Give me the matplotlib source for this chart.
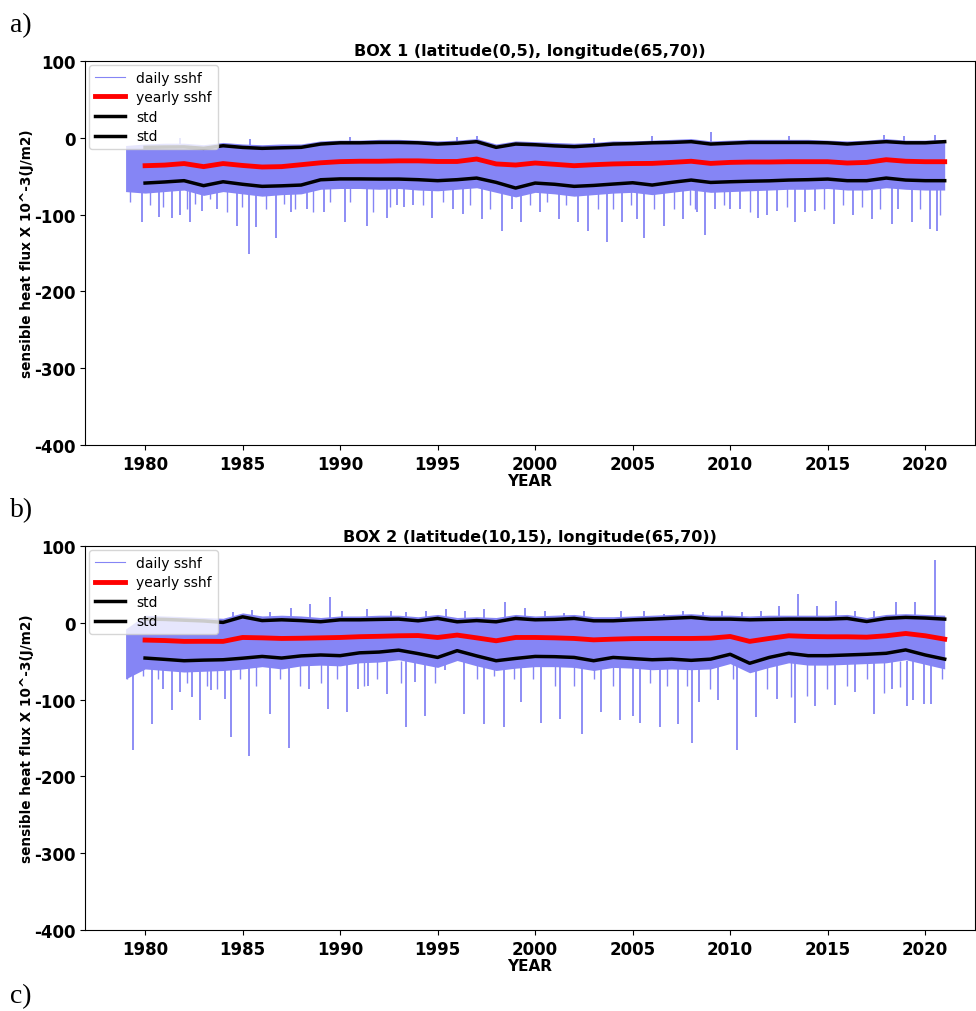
import matplotlib
matplotlib.use("Agg")
import matplotlib.pyplot as plt
import numpy as np


# yearly values (1980..2021)
years = list(range(1980, 2022))

mean_a = [-36.3, -35.5, -33.5, -37.5, -33.5, -36.0, -38.0, -37.5, -35.0, -32.5,
          -31.0, -30.5, -30.5, -30.0, -30.0, -30.8, -30.8, -27.6, -34.0, -35.4,
          -32.8, -34.5, -36.3, -35.0, -34.0, -33.5, -33.3, -32.0, -30.5, -33.3,
          -32.0, -31.5, -31.5, -31.1, -31.1, -31.1, -32.8, -32.0, -28.5, -30.5,
          -31.1, -31.1]
upper_a = [-12.4, -12.0, -11.8, -13.7, -10.3, -12.5, -13.7, -13.0, -12.4, -8.1,
           -6.5, -6.5, -6.0, -6.0, -6.5, -8.1, -7.0, -5.0, -12.4, -8.1,
           -9.0, -10.5, -11.5, -10.0, -8.1, -7.5, -6.5, -6.0, -5.0, -8.1,
           -7.0, -6.0, -6.0, -6.0, -6.0, -6.5, -8.1, -6.5, -5.0, -6.5,
           -6.5, -5.0]
lower_a = [-58.9, -57.5, -55.8, -62.3, -57.2, -60.5, -63.2, -62.5, -61.5, -54.6,
           -53.5, -53.5, -53.7, -53.7, -54.5, -55.8, -54.5, -52.4, -58.0, -65.4,
           -58.9, -60.5, -63.2, -62.0, -60.2, -58.5, -61.5, -58.0, -55.0, -58.1,
           -57.2, -56.5, -56.0, -55.0, -54.5, -53.7, -55.8, -55.8, -52.4, -55.0,
           -55.8, -55.8]

mean_b = [-22.4, -23.0, -24.1, -24.0, -24.1, -19.0, -19.5, -20.3, -20.0, -19.5,
          -19.0, -18.0, -17.5, -16.8, -16.5, -19.0, -15.9, -19.5, -23.3, -19.0,
          -19.0, -19.5, -20.3, -22.1, -21.2, -20.5, -20.3, -20.3, -20.3, -19.9,
          -17.7, -24.1, -20.3, -16.8, -17.7, -18.1, -18.1, -18.6, -16.8, -13.8,
          -16.8, -21.2]
upper_b = [5.0, 4.5, 3.5, 2.5, 0.6, 7.9, 3.0, 4.0, 3.0, 1.5,
           4.0, 4.0, 4.5, 4.9, 2.7, 5.8, 1.4, 3.0, 1.4, 5.8,
           4.0, 4.5, 5.8, 2.7, 2.7, 4.0, 4.9, 6.0, 7.1, 4.9,
           4.9, 4.0, 4.5, 4.9, 4.9, 4.9, 5.8, 1.8, 5.8, 7.1,
           6.3, 4.9]
lower_b = [-45.8, -47.5, -49.3, -48.5, -48.0, -46.0, -43.7, -45.8, -43.0, -41.8,
           -42.7, -39.0, -38.0, -35.5, -40.0, -45.0, -36.2, -43.0, -49.3, -46.3,
           -43.7, -44.0, -45.0, -49.3, -45.0, -46.5, -48.0, -47.2, -48.8, -47.2,
           -40.9, -52.6, -45.0, -39.6, -42.7, -42.7, -41.8, -40.9, -39.6, -35.2,
           -41.8, -47.2]

# dense part of the daily series, top and bottom per year (1979..2021)
band_years = list(range(1979, 2022))
band_top_a = [-10, -8, -7, -7, -9, -6, -8, -9, -8, -8, -4,
              -3, -3, -2, -2, -3, -4, -3, -1, -8, -4,
              -5, -6, -7, -6, -4, -4, -3, -2, -1, -4,
              -3, -2, -2, -2, -2, -3, -4, -3, -1, -3,
              -3, -2]
band_bot_a = [-70, -72, -70, -68, -75, -70, -73, -76, -74, -73, -67,
              -66, -66, -67, -66, -68, -69, -67, -65, -71, -77,
              -71, -73, -76, -74, -72, -71, -74, -71, -68, -71,
              -70, -69, -68, -67, -67, -66, -68, -68, -65, -67,
              -68, -68]
band_top_b = [-8, 10, 9, 8, 7, 6, 13, 9, 10, 9, 7,
              9, 9, 10, 10, 8, 11, 7, 8, 7, 11,
              9, 10, 11, 8, 8, 9, 10, 11, 12, 10,
              10, 9, 10, 10, 10, 10, 11, 7, 11, 12,
              11, 10]
band_bot_b = [-73, -60, -62, -64, -63, -62, -60, -57, -60, -56, -55,
              -56, -52, -51, -48, -53, -58, -49, -56, -62, -59,
              -57, -57, -58, -62, -58, -59, -61, -60, -61, -60,
              -53, -65, -58, -52, -55, -55, -54, -53, -52, -48,
              -54, -60]

# strongest daily spikes (year, value)
down_a = [(1979.83, -110), (1980.73, -103), (1981.37, -105), (1981.8, -101),
          (1982.3, -110), (1982.9, -95), (1983.7, -93), (1984.7, -115),
          (1985.35, -151), (1985.7, -116), (1986.7, -130), (1987.5, -97),
          (1988.3, -93), (1989.15, -97), (1990.25, -110), (1991.4, -115),
          (1992.4, -104), (1992.9, -88), (1993.3, -90), (1993.75, -88),
          (1994.7, -104), (1995.8, -93), (1996.3, -99), (1997.3, -106),
          (1998.3, -121), (1998.8, -93), (1999.26, -110), (2000.26, -97),
          (2001.2, -106), (2002.2, -110), (2002.7, -121), (2003.7, -136),
          (2004.45, -110), (2005.2, -106), (2005.6, -130), (2006.6, -115),
          (2007.6, -106), (2008.3, -97), (2008.7, -127), (2009.2, -93),
          (2010.0, -93), (2010.5, -93), (2011.45, -104), (2011.9, -101),
          (2012.4, -95), (2013.3, -110), (2013.85, -97), (2014.36, -95),
          (2015.3, -112), (2016.3, -101), (2017.26, -106), (2018.3, -112),
          (2018.6, -93), (2019.3, -110), (2020.26, -119), (2020.6, -121)]
# smaller ones that give the band its ragged lower edge
mid_a = [(1979.23, -84), (1980.26, -88), (1980.94, -90), (1982.14, -93),
         (1982.56, -86), (1983.33, -80), (1984.2, -97), (1984.96, -90),
         (1986.2, -93), (1987.1, -86), (1987.7, -93), (1988.6, -97),
         (1989.5, -84), (1990.5, -84), (1991.7, -97), (1992.56, -90),
         (1994.27, -88), (1995.3, -84), (1996.67, -88), (1997.7, -93),
         (1999.74, -88), (2000.6, -84), (2001.6, -88), (2003.2, -93),
         (2004.0, -93), (2004.9, -88), (2006.07, -93), (2007.1, -93),
         (2007.95, -88), (2008.2, -93), (2009.66, -88), (2011.0, -97),
         (2012.9, -90), (2014.8, -93), (2015.8, -88), (2016.75, -90),
         (2017.7, -93), (2019.74, -93), (2020.77, -101)]
up_a = [(1981.8, 0), (1985.4, -1), (1990.5, 1), (1996.0, 1), (1997.0, 3),
        (2003.0, 0), (2006.0, 2), (2009.0, 7), (2013.0, 2), (2017.9, 4),
        (2018.9, 3), (2020.5, 4)]

down_b = [(1979.4, -166), (1980.34, -132), (1980.94, -86), (1981.37, -114),
          (1981.8, -90), (1982.4, -97), (1982.8, -127), (1983.4, -88),
          (1984.1, -99), (1984.4, -149), (1985.35, -173), (1986.4, -119),
          (1987.4, -163), (1988.4, -86), (1989.4, -112), (1990.34, -116),
          (1990.9, -86), (1991.45, -82), (1992.4, -93), (1993.4, -136),
          (1993.85, -77), (1994.36, -121), (1995.4, -62), (1996.36, -119),
          (1997.4, -132), (1998.4, -136), (1999.3, -103), (2000.3, -130),
          (2001.3, -125), (2002.4, -145), (2003.4, -116), (2004.36, -127),
          (2005.0, -121), (2005.4, -130), (2006.4, -136), (2007.35, -132),
          (2008.03, -156), (2008.4, -103), (2009.4, -101), (2010.34, -165),
          (2011.33, -123), (2012.4, -99), (2013.33, -130), (2014.36, -108),
          (2015.4, -107), (2016.4, -90), (2017.35, -119), (2018.3, -86),
          (2019.05, -108), (2019.4, -101), (2019.96, -106), (2020.3, -106)]
mid_b = [(1979.06, -73), (1979.9, -69), (1980.68, -73), (1982.14, -78),
         (1983.16, -82), (1983.67, -86), (1984.87, -73), (1985.7, -82),
         (1986.9, -73), (1987.95, -82), (1989.0, -78), (1989.83, -73),
         (1991.2, -82), (1991.9, -73), (1993.1, -78), (1994.87, -78),
         (1997.0, -73), (1997.9, -69), (1998.9, -73), (1999.9, -73),
         (2001.0, -82), (2002.0, -82), (2003.0, -73), (2004.0, -82),
         (2005.9, -78), (2006.75, -82), (2007.8, -82), (2008.97, -86),
         (2010.17, -73), (2011.9, -86), (2013.1, -97), (2013.93, -95),
         (2014.96, -86), (2015.98, -82), (2017.0, -73), (2017.9, -91),
         (2018.7, -84), (2020.85, -73)]
up_b = [(1984.5, 14), (1985.5, 17), (1986.4, 14), (1987.5, 20), (1988.46, 24),
        (1989.5, 34), (1990.1, 16), (1991.4, 18), (1992.6, 16), (1993.4, 14),
        (1994.4, 16), (1995.45, 18), (1996.4, 16), (1997.4, 18), (1998.46, 27),
        (1999.5, 19), (2000.5, 16), (2001.5, 13), (2002.5, 16), (2004.4, 15),
        (2005.6, 15), (2006.6, 12), (2007.6, 16), (2008.6, 14), (2009.6, 16),
        (2010.6, 14), (2011.6, 16), (2012.5, 22), (2013.5, 37), (2014.45, 22),
        (2015.45, 29), (2016.4, 16), (2017.4, 16), (2018.5, 27), (2019.5, 27),
        (2020.5, 82)]

daily_col = "#8585f5"

plt.rcParams["font.family"] = "DejaVu Sans"
plt.rcParams["axes.unicode_minus"] = False

fig = plt.figure(figsize=(9.76, 10.12), dpi=100)

panels = [
    ("BOX 1 (latitude(0,5), longitude(65,70))", [0.0871, 0.5593, 0.912, 0.3794],
     mean_a, upper_a, lower_a, band_top_a, band_bot_a, down_a, mid_a, up_a),
    ("BOX 2 (latitude(10,15), longitude(65,70))", [0.0871, 0.0800, 0.912, 0.3794],
     mean_b, upper_b, lower_b, band_top_b, band_bot_b, down_b, mid_b, up_b),
]

for title, pos, mean, upper, lower, btop, bbot, down, mid, up in panels:
    ax = fig.add_axes(pos)

    # daily sshf: dense band + spikes
    ax.fill_between(band_years, bbot, btop, color=daily_col, lw=0)
    ax.vlines([d[0] for d in down], -50, [d[1] for d in down], color=daily_col, lw=1.3)
    ax.vlines([m[0] for m in mid], -50, [m[1] for m in mid], color=daily_col, lw=1.0)
    ax.vlines([u[0] for u in up], -10, [u[1] for u in up], color=daily_col, lw=1.3)
    ax.plot([], [], color=daily_col, lw=0.8, label="daily sshf")

    ax.plot(years, mean, color="red", lw=3.5, label="yearly sshf")
    ax.plot(years, upper, color="black", lw=2.5, label="std")
    ax.plot(years, lower, color="black", lw=2.5, label="std")

    ax.set_xlim(1976.92, 2022.56)
    ax.set_ylim(-400, 100)
    ax.set_xticks(range(1980, 2021, 5))
    ax.set_yticks(range(-400, 101, 100))
    for lab in ax.get_xticklabels() + ax.get_yticklabels():
        lab.set_fontweight("bold")
        lab.set_fontsize(12)
    ax.set_title(title, fontweight="bold", fontsize=11.5, pad=4)
    ax.set_xlabel("YEAR", fontweight="bold", fontsize=11, labelpad=0)
    ax.set_ylabel("sensible heat flux X 10^-3(J/m2)", fontweight="bold",
                  fontsize=9.8, labelpad=0)
    ax.legend(loc="upper left", fontsize=10, borderaxespad=0.3,
              handlelength=2.2, labelspacing=0.4)

# panel letters
for lab, y in [("a)", 0.975), ("b)", 0.495), ("c)", 0.015)]:
    fig.text(0.01, y, lab, family="Liberation Serif", fontsize=20, va="center")

fig.savefig("out.png", dpi=100)
